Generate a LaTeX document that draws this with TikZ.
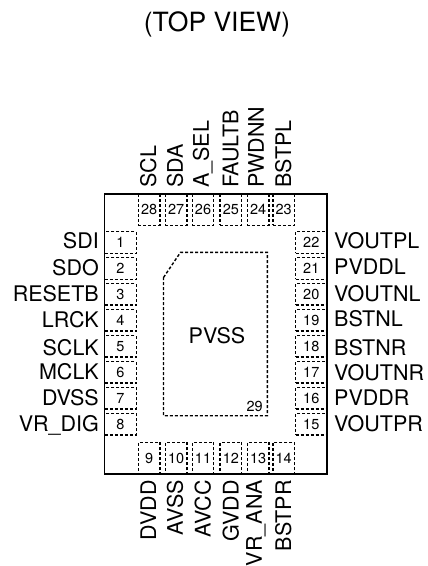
\documentclass[tikz,border=0pt]{standalone}
\usepackage{fontspec}
\setmainfont{TeX Gyre Heros}
\tikzset{
    padline/.style={line width=1.4pt,dash pattern=on 3pt off 2pt},
    padv/.style={padline,draw,inner sep=0pt,minimum width=31.5pt,minimum height=21.5pt,font=\fontsize{14.5}{14}\selectfont},
    padh/.style={padline,draw,inner sep=0pt,minimum width=21.5pt,minimum height=31.5pt,font=\fontsize{14.5}{14}\selectfont},
    pinleft/.style={anchor=base east,inner sep=0pt,font=\fontsize{21.5}{22}\selectfont},
    pinright/.style={anchor=base west,inner sep=0pt,font=\fontsize{21.5}{22}\selectfont},
    pintop/.style={anchor=west,rotate=90,inner sep=0pt,font=\fontsize{21.5}{22}\selectfont},
    pinbottom/.style={anchor=east,rotate=90,inner sep=0pt,font=\fontsize{21.5}{22}\selectfont},
}
\begin{document}
\begin{tikzpicture}[x=1pt,y=1pt,yscale=-1,xscale=1]

    \useasboundingbox (0,0) rectangle (428,566);

    % pads
    \node (pad1) [padv] at (120.5,242.5) {1};
    \node (pad2) [padv] at (120.5,268.5) {2};
    \node (pad3) [padv] at (120.5,294.4) {3};
    \node (pad4) [padv] at (120.5,320.3) {4};
    \node (pad5) [padv] at (120.5,346.3) {5};
    \node (pad6) [padv] at (120.5,372.3) {6};
    \node (pad7) [padv] at (120.5,398.2) {7};
    \node (pad8) [padv] at (120.5,424.2) {8};

    \node (pad9) [padh] at (149.2,458.2) {9};
    \node (pad10) [padh] at (176.1,458.2) {10};
    \node (pad11) [padh] at (203,458.2) {11};
    \node (pad12) [padh] at (230.9,458.2) {12};
    \node (pad13) [padh] at (258.1,458.2) {13};
    \node (pad14) [padh] at (283.7,458.2) {14};

    \node (pad15) [padv] at (311.3,424.2) {15};
    \node (pad16) [padv] at (311.3,398.2) {16};
    \node (pad17) [padv] at (311.3,372.3) {17};
    \node (pad18) [padv] at (311.3,346.3) {18};
    \node (pad19) [padv] at (311.3,320.3) {19};
    \node (pad20) [padv] at (311.3,294.4) {20};
    \node (pad21) [padv] at (311.3,268.5) {21};
    \node (pad22) [padv] at (311.3,242.5) {22};

    \node (pad23) [padh] at (283.7,209.7) {23};
    \node (pad24) [padh] at (258.1,209.7) {24};
    \node (pad25) [padh] at (230.9,209.7) {25};
    \node (pad26) [padh] at (203,209.7) {26};
    \node (pad27) [padh] at (176.1,209.7) {27};
    \node (pad28) [padh] at (149.2,209.7) {28};

    % package and thermal pad
    \draw [line width=1.4pt] (104.5,194) rectangle (327,474);
    \draw [padline] (163.5,277.5) -- (180.5,252.3) -- (267.3,252.3) -- (267.3,415.7) -- (163.5,415.7) -- cycle;

    \node (title) [anchor=base,inner sep=0pt,font=\fontsize{26.5}{27}\selectfont] at (217,31) {(TOP VIEW)};
    \node (pvss) [anchor=base,inner sep=0pt,font=\fontsize{21.5}{22}\selectfont] at (217,343) {PVSS};
    \node (pvssnum) [anchor=base east,inner sep=0pt,font=\fontsize{14.5}{14}\selectfont] at (263,411) {29};

    % left side
    \node (sdi) [pinleft] at (99,248) {SDI};
    \node (sdo) [pinleft] at (99,275) {SDO};
    \node (resetb) [pinleft] at (99,301) {RESETB};
    \node (lrck) [pinleft] at (99,327) {LRCK};
    \node (sclk) [pinleft] at (99,355) {SCLK};
    \node (mclk) [pinleft] at (99,379) {MCLK};
    \node (dvss) [pinleft] at (99,405) {DVSS};
    \node (vrdig) [pinleft] at (99,431.5) {VR\_DIG};

    % right side
    \node (voutpl) [pinright] at (334,248) {VOUTPL};
    \node (pvddl) [pinright] at (334,274) {PVDDL};
    \node (voutnl) [pinright] at (334,301) {VOUTNL};
    \node (bstnl) [pinright] at (334,326) {BSTNL};
    \node (bstnr) [pinright] at (334,355) {BSTNR};
    \node (voutnr) [pinright] at (334,380) {VOUTNR};
    \node (pvddr) [pinright] at (334,405) {PVDDR};
    \node (voutpr) [pinright] at (334,431) {VOUTPR};

    % top side
    \node (scl) [pintop] at (148.3,188) {SCL};
    \node (sda) [pintop] at (175,188) {SDA};
    \node (asel) [pintop] at (202.7,188) {A\_SEL};
    \node (faultb) [pintop] at (230.7,188) {FAULTB};
    \node (pwdnn) [pintop] at (256,188) {PWDNN};
    \node (bstpl) [pintop] at (283.3,188) {BSTPL};

    % bottom side
    \node (dvdd) [pinbottom] at (148.3,480) {DVDD};
    \node (avss) [pinbottom] at (175,480) {AVSS};
    \node (avcc) [pinbottom] at (202.7,480) {AVCC};
    \node (gvdd) [pinbottom] at (230.7,480) {GVDD};
    \node (vrana) [pinbottom] at (256,480) {VR\_ANA};
    \node (bstpr) [pinbottom] at (283.3,480) {BSTPR};

\end{tikzpicture}
\end{document}
